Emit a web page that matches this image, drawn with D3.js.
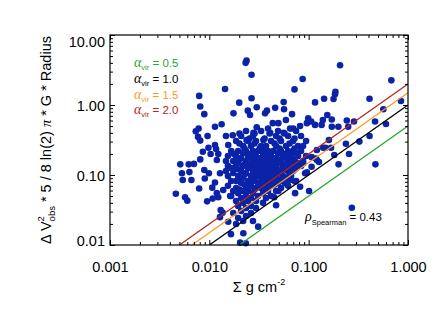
<!DOCTYPE html>
<html>
<head>
<meta charset="utf-8">
<script src="https://cdn.jsdelivr.net/npm/d3@7"></script>
<style>
body { margin: 0; background: #fff; }
svg text { font-family: "Liberation Sans", Arial, sans-serif; fill: #000; }
.greek { font-family: "Liberation Serif", serif; font-style: italic; }
</style>
</head>
<body>
<div id="chart"></div>
<script>
// Data: [surface density (g cm^-2), dv^2 * 5 / 8ln2 pi G R]
const clumps = [
    // high outliers
    [0.0237, 4.3], [0.0232, 4.0], [0.207, 3.7], [0.0266, 2.7], [0.087, 2.35], [0.68, 2.25],
    [0.0144, 1.69], [0.072, 1.67], [0.186, 1.55], [0.184, 1.42], [0.178, 1.22], [0.0079, 1.35],
    [0.0266, 1.25], [0.143, 1.23], [0.41, 1.23], [0.85, 1.14], [0.020, 1.08], [0.056, 1.10],
    [0.116, 1.09], [0.0081, 0.95], [0.030, 0.93], [0.0244, 0.83], [0.565, 0.87], [0.038, 0.83],
    [0.0364, 0.76], [0.046, 0.91], [0.0565, 0.87], [0.0089, 0.74], [0.0175, 0.76], [0.068, 0.74],
    [0.0257, 0.72], [0.154, 0.72], [0.099, 0.645], [0.171, 0.62], [0.242, 0.60], [0.286, 0.58],
    [0.466, 0.58], [0.139, 0.61], [0.059, 0.61], [0.096, 0.55], [0.0495, 0.55], [0.0435, 0.55],
    [0.116, 0.52], [0.60, 0.535], [0.106, 0.58], [0.199, 0.49], [0.25, 0.49], [0.171, 0.49],
    [0.135, 0.52], [0.082, 0.50], [0.030, 0.48], [0.039, 0.46], [0.065, 0.46], [0.070, 0.46],
    [0.0078, 0.46], [0.0114, 0.49], [0.0133, 0.53],
    // upper left
    [0.0077, 0.35], [0.0073, 0.42], [0.0096, 0.36], [0.0147, 0.36], [0.0081, 0.31], [0.0172, 0.37],
    [0.0155, 0.268], [0.0114, 0.268], [0.0237, 0.316], [0.0278, 0.40], [0.056, 0.40], [0.041, 0.40],
    [0.035, 0.316],
    // right side
    [0.324, 0.30], [0.41, 0.36], [0.237, 0.28], [0.168, 0.245], [0.16, 0.316], [0.14, 0.245],
    [0.121, 0.228], [0.107, 0.18], [0.181, 0.193], [0.255, 0.20], [0.20, 0.142], [0.47, 0.142],
    [0.127, 0.153], [0.121, 0.164], [0.092, 0.106], [0.107, 0.131], [0.118, 0.172], [0.148, 0.245],
    [0.096, 0.109], [0.088, 0.147], [0.073, 0.131], [0.06, 0.118], [0.0515, 0.106], [0.065, 0.085],
    [0.082, 0.068], [0.073, 0.081], [0.058, 0.076], [0.101, 0.059], [0.073, 0.055], [0.0495, 0.059],
    [0.045, 0.048], [0.047, 0.037], [0.272, 0.034],
    // left side and bottom
    [0.0086, 0.215], [0.0103, 0.20], [0.0119, 0.164], [0.0081, 0.167], [0.0070, 0.144], [0.0062, 0.142],
    [0.0051, 0.142], [0.0053, 0.106], [0.0063, 0.11], [0.0099, 0.106], [0.0128, 0.106], [0.0054, 0.085],
    [0.0066, 0.085], [0.0079, 0.064], [0.009, 0.089], [0.0114, 0.078], [0.0046, 0.054], [0.0057, 0.048],
    [0.006, 0.043], [0.0095, 0.042], [0.0123, 0.048], [0.0138, 0.061], [0.013, 0.0316], [0.0128, 0.025],
    [0.0155, 0.0215], [0.0165, 0.0143], [0.022, 0.0147], [0.0204, 0.0108], [0.0233, 0.0106], [0.031, 0.0183],
    [0.0098, 0.245], [0.0117, 0.235], [0.0123, 0.2], [0.0089, 0.118], [0.0107, 0.066], [0.0119, 0.055],
    [0.0108, 0.046], [0.0136, 0.029], [0.0162, 0.05],
    // dense core
    [0.0234, 0.425], [0.0332, 0.425], [0.0492, 0.425], [0.0747, 0.425],
    [0.0201, 0.392], [0.0285, 0.392], [0.0404, 0.392], [0.0572, 0.392],
    [0.0209, 0.361], [0.0275, 0.361], [0.047, 0.361], [0.0621, 0.361], [0.0838, 0.361],
    [0.0254, 0.332], [0.036, 0.332], [0.051, 0.332], [0.0721, 0.332],
    [0.0186, 0.306], [0.0245, 0.306], [0.0295, 0.306], [0.0418, 0.306], [0.0527, 0.306], [0.0697, 0.306], [0.0942, 0.306],
    [0.0201, 0.282], [0.0285, 0.282], [0.0454, 0.282], [0.0642, 0.282],
    [0.0219, 0.259], [0.0263, 0.259], [0.0332, 0.259], [0.0372, 0.259], [0.047, 0.259], [0.0592, 0.259], [0.0782, 0.259], [0.0879, 0.259],
    [0.0226, 0.239], [0.0321, 0.239], [0.036, 0.239], [0.051, 0.239], [0.0721, 0.239],
    [0.0166, 0.220], [0.0195, 0.220], [0.0234, 0.220], [0.0275, 0.220], [0.0309, 0.220], [0.039, 0.220], [0.0438, 0.220],
    [0.0527, 0.220], [0.0621, 0.220], [0.0697, 0.220], [0.0838, 0.220],
    [0.0219, 0.206], [0.0347, 0.206], [0.0492, 0.206], [0.0747, 0.206],
    [0.0177, 0.20], [0.0254, 0.20], [0.0285, 0.20], [0.0404, 0.20], [0.0572, 0.20], [0.0642, 0.20],
    [0.0154, 0.187], [0.0186, 0.187], [0.0245, 0.187], [0.0295, 0.187], [0.0372, 0.187], [0.0418, 0.187],
    [0.0552, 0.187], [0.0665, 0.187], [0.0782, 0.187], [0.0942, 0.187],
    [0.0209, 0.175], [0.0263, 0.175], [0.0332, 0.175], [0.047, 0.175], [0.0592, 0.175],
    [0.0201, 0.166], [0.036, 0.166], [0.0404, 0.166], [0.051, 0.166], [0.0721, 0.166],
    [0.0147, 0.158], [0.0174, 0.158], [0.0234, 0.158], [0.0275, 0.158], [0.0309, 0.158], [0.039, 0.158],
    [0.0438, 0.158], [0.0527, 0.158], [0.0621, 0.158], [0.0697, 0.158], [0.0879, 0.158],
    [0.0195, 0.148], [0.0347, 0.148], [0.0492, 0.148], [0.0782, 0.148],
    [0.0226, 0.141], [0.0254, 0.141], [0.0321, 0.141], [0.0454, 0.141], [0.0572, 0.141], [0.0642, 0.141],
    [0.0154, 0.135], [0.0186, 0.135], [0.0219, 0.135], [0.0263, 0.135], [0.0295, 0.135], [0.0372, 0.135],
    [0.0418, 0.135], [0.0552, 0.135], [0.0665, 0.135], [0.0838, 0.135],
    [0.0166, 0.126], [0.0245, 0.126], [0.0332, 0.126], [0.047, 0.126], [0.0592, 0.126], [0.0747, 0.126],
    [0.0177, 0.12], [0.0201, 0.12], [0.0285, 0.12], [0.036, 0.12], [0.051, 0.12], [0.0721, 0.12],
    [0.0147, 0.114], [0.0209, 0.114], [0.0275, 0.114], [0.0309, 0.114], [0.039, 0.114], [0.0438, 0.114],
    [0.0527, 0.114], [0.0621, 0.114], [0.0697, 0.114],
    [0.0174, 0.107], [0.0234, 0.107], [0.0347, 0.107], [0.0492, 0.107],
    [0.0226, 0.102], [0.0321, 0.102], [0.0404, 0.102], [0.0454, 0.102], [0.0642, 0.102],
    [0.0154, 0.097], [0.0195, 0.097], [0.0263, 0.097], [0.0295, 0.097], [0.0372, 0.097], [0.0418, 0.097],
    [0.0552, 0.097], [0.0665, 0.097],
    [0.0219, 0.091], [0.0332, 0.091], [0.047, 0.091], [0.0592, 0.091],
    [0.0201, 0.086], [0.0285, 0.086], [0.036, 0.086], [0.051, 0.086], [0.0572, 0.086],
    [0.0166, 0.082], [0.0186, 0.082], [0.0245, 0.082], [0.0275, 0.082], [0.039, 0.082], [0.0438, 0.082],
    [0.0527, 0.082], [0.0747, 0.082],
    [0.0209, 0.077], [0.0309, 0.077], [0.0347, 0.077], [0.0492, 0.077],
    [0.0226, 0.073], [0.0321, 0.073], [0.0404, 0.073], [0.0454, 0.073],
    [0.0154, 0.070], [0.0234, 0.070], [0.0263, 0.070], [0.0372, 0.070], [0.0418, 0.070], [0.0621, 0.070],
    [0.0186, 0.065], [0.0295, 0.065], [0.0332, 0.065], [0.0527, 0.065],
    [0.0201, 0.062], [0.0285, 0.062], [0.036, 0.062],
    [0.0174, 0.059], [0.0219, 0.059], [0.0245, 0.059], [0.039, 0.059], [0.047, 0.059],
    [0.0195, 0.055], [0.0275, 0.055], [0.0347, 0.055],
    [0.0166, 0.050], [0.0234, 0.050], [0.0309, 0.050], [0.0418, 0.050],
    [0.0209, 0.047], [0.0263, 0.047], [0.0372, 0.047],
    [0.0186, 0.0425], [0.0245, 0.0425], [0.0295, 0.0425],
    [0.0219, 0.040], [0.0347, 0.040],
    [0.0195, 0.036], [0.0263, 0.036],
    [0.0234, 0.0338], [0.0295, 0.0338],
    [0.0209, 0.0306], [0.0174, 0.0286], [0.0263, 0.0286],
    [0.0234, 0.026], [0.0195, 0.0243], [0.0219, 0.022], [0.0275, 0.022], [0.0186, 0.020]
];

const alphaVir = [0.5, 1.0, 1.5, 2.0];
const alphaLabels = ["0.5", "1.0", "1.5", "2.0"];
const xTicks = [0.001, 0.01, 0.1, 1];
const xTickLabels = ["0.001", "0.010", "0.100", "1.000"];
const yTicks = [0.01, 0.1, 1, 10];
const yTickLabels = ["0.01", "0.10", "1.00", "10.00"];
const rhoSpearman = "0.43";

// Styles
const lineColors = ["#23a829", "#000000", "#ff9a1e", "#b3261c"];
const dotColor = "#0b23a8";

// Dimensions
const W = 441, H = 315;
const margin = { top: 35, right: 33, bottom: 70, left: 110 };
const width = W - margin.left - margin.right;
const height = H - margin.top - margin.bottom;

const svg = d3.select("#chart").append("svg")
    .attr("width", W)
    .attr("height", H);

const g = svg.append("g")
    .attr("transform", `translate(${margin.left},${margin.top})`);

// Scales
const x = d3.scaleLog().domain([0.001, 1]).range([0, width]);
const y = d3.scaleLog().domain([0.01, 10]).range([height, 0]);

function minorTicks(lo, hi) {
    const out = [];
    for (let d = lo; d < hi * 0.999; d *= 10)
        for (let k = 2; k <= 9; k++) out.push(d * k);
    return out;
}
const xMinor = minorTicks(0.001, 1);
const yMinor = minorTicks(0.01, 10);

svg.append("clipPath").attr("id", "plot-clip")
    .append("rect").attr("width", width).attr("height", height);

// Points
g.selectAll(".dot")
    .data(clumps)
    .enter().append("circle")
    .attr("class", "dot")
    .attr("cx", d => x(d[0]))
    .attr("cy", d => y(d[1]))
    .attr("r", 3.3)
    .style("fill", dotColor);

// alpha_vir lines: dv = alpha * Sigma
const line = d3.line().x(d => x(d[0])).y(d => y(d[1]));
g.selectAll(".vir")
    .data(alphaVir)
    .enter().append("path")
    .attr("class", "vir")
    .attr("clip-path", "url(#plot-clip)")
    .attr("d", a => line([[0.01 / a, 0.01], [1, a]]))
    .style("fill", "none")
    .style("stroke", (a, i) => lineColors[i])
    .style("stroke-width", 1.3);

// Axes (IDL-style inward ticks on all four sides)
function styleAxis(sel) {
    sel.selectAll("path.domain").remove();
    sel.selectAll("line").style("stroke", "#000").style("stroke-width", 1);
    sel.selectAll("text").style("font-size", "14.5px").style("fill", "#000");
}

g.append("g")
    .attr("transform", `translate(0,${height})`)
    .call(d3.axisBottom(x).tickValues(xTicks).tickSize(-5).tickPadding(16.5)
        .tickFormat((d, i) => xTickLabels[i]))
    .call(styleAxis);

g.append("g").attr("transform", `translate(0,${height})`)
    .call(d3.axisBottom(x).tickValues(xMinor).tickSize(-3).tickFormat(""))
    .call(styleAxis);
g.append("g")
    .call(d3.axisTop(x).tickValues(xTicks).tickSize(-5).tickFormat(""))
    .call(styleAxis);
g.append("g")
    .call(d3.axisTop(x).tickValues(xMinor).tickSize(-3).tickFormat(""))
    .call(styleAxis);

const yAxis = g.append("g")
    .call(d3.axisLeft(y).tickValues(yTicks).tickSize(-5).tickPadding(5)
        .tickFormat((d, i) => yTickLabels[i]))
    .call(styleAxis);
yAxis.selectAll("text").attr("dy", d => d === 10 ? "0.8em" : d === 0.01 ? "0em" : "0.39em");

g.append("g")
    .call(d3.axisLeft(y).tickValues(yMinor).tickSize(-3).tickFormat(""))
    .call(styleAxis);
g.append("g").attr("transform", `translate(${width},0)`)
    .call(d3.axisRight(y).tickValues(yTicks).tickSize(-5).tickFormat(""))
    .call(styleAxis);
g.append("g").attr("transform", `translate(${width},0)`)
    .call(d3.axisRight(y).tickValues(yMinor).tickSize(-3).tickFormat(""))
    .call(styleAxis);

// Frame
g.append("rect")
    .attr("width", width)
    .attr("height", height)
    .style("fill", "none")
    .style("stroke", "#000")
    .style("stroke-width", 1.2);

// Axis titles
const xt = svg.append("text")
    .attr("x", margin.left + width / 2)
    .attr("y", 292)
    .attr("text-anchor", "middle")
    .style("font-size", "14.5px");
xt.append("tspan").text("Σ g cm");
xt.append("tspan").attr("dy", -7).style("font-size", "9px").text("-2");

const yt = svg.append("text")
    .attr("transform", `translate(51,${margin.top + height / 2}) rotate(-90)`)
    .attr("text-anchor", "middle")
    .style("font-size", "14.5px");
yt.append("tspan").text("Δ V");
yt.append("tspan").attr("dy", -7).style("font-size", "9.5px").text("2");
yt.append("tspan").attr("dx", -5.3).attr("dy", 10.5).style("font-size", "9.5px").text("obs");
yt.append("tspan").attr("dy", -3.5).text(" * 5 / 8 ln(2) ");
yt.append("tspan").attr("class", "greek").text("π");
yt.append("tspan").text(" * G * Radius");

// Legend
alphaVir.forEach((a, i) => {
    const t = svg.append("text")
        .attr("x", 134)
        .attr("y", 67 + i * 15.8)
        .style("font-size", "11.5px");
    t.append("tspan").attr("class", "greek").style("font-size", "14px")
        .style("fill", lineColors[i]).text("α");
    t.append("tspan").attr("dy", 3).style("font-size", "7.5px")
        .style("fill", lineColors[i]).text("vir");
    t.append("tspan").attr("dy", -3)
        .style("fill", lineColors[i]).text(" = " + alphaLabels[i]);
});

// Spearman
const sp = svg.append("text")
    .attr("x", 305)
    .attr("y", 221)
    .style("font-size", "11.5px");
sp.append("tspan").attr("class", "greek").style("font-size", "14px").text("ρ");
sp.append("tspan").attr("dy", 3.5).style("font-size", "7.5px").text("Spearman");
sp.append("tspan").attr("dy", -3.5).text(" = " + rhoSpearman);
</script>
</body>
</html>
